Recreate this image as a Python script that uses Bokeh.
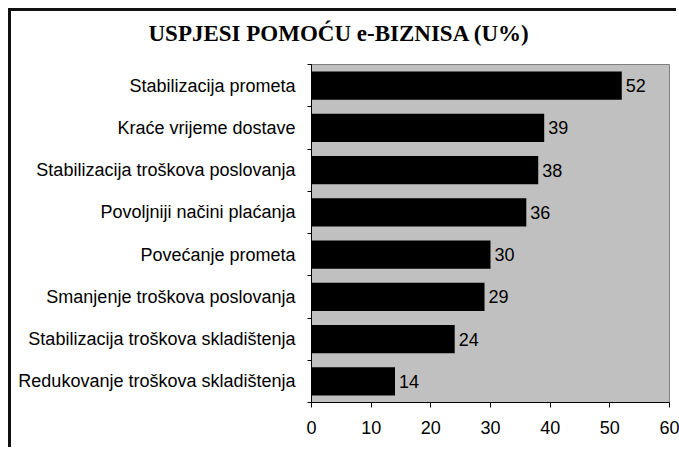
from bokeh.plotting import figure
from bokeh.models import FixedTicker, ColumnDataSource, LabelSet, Title
from bokeh.core.properties import value
from bokeh.embed import file_html
from bokeh.resources import INLINE

title_text = "USPJESI POMOĆU e-BIZNISA (U%)"
categories = [
    "Stabilizacija prometa",
    "Kraće vrijeme dostave",
    "Stabilizacija troškova poslovanja",
    "Povoljniji načini plaćanja",
    "Povećanje prometa",
    "Smanjenje troškova poslovanja",
    "Stabilizacija troškova skladištenja",
    "Redukovanje troškova skladištenja",
]
values = [52, 39, 38, 36, 30, 29, 24, 14]
x_ticks = [0, 10, 20, 30, 40, 50, 60]

n = len(categories)
ypos = [n - 1 - i + 0.5 for i in range(n)]
src = ColumnDataSource(dict(y=ypos, v=values, lab=[str(v) for v in values]))

FONT = "Liberation Sans"

p = figure(width=668, height=439, x_range=(0, 60), y_range=(0, n),
           output_backend="svg", toolbar_location=None,
           min_border_left=300, min_border_right=10,
           min_border_top=53, min_border_bottom=48)

p.hbar(y="y", right="v", left=0, height=0.667, source=src,
       fill_color="black", line_color=None)

labels = LabelSet(x="v", y="y", text="lab", source=src, x_offset=4,
                  text_baseline="middle", text_align="left",
                  text_font=value(FONT), text_font_size="18px",
                  text_color="black")
p.add_layout(labels)

# spacer between the title and the plot area
p.add_layout(Title(text=" ", text_font_size="1px", standoff=14), "above")

p.title.text = title_text
p.title.text_font = "Liberation Serif"
p.title.text_font_style = "bold"
p.title.text_font_size = "23px"
p.title.align = "left"
p.title.offset = -163
p.title.standoff = 4
p.title.text_color = "black"

p.background_fill_color = "#C0C0C0"
p.border_fill_color = "white"
p.outline_line_color = "#808080"
p.outline_line_width = 1
p.xgrid.visible = False
p.ygrid.visible = False

xa = p.xaxis[0]
xa.ticker = FixedTicker(ticks=x_ticks)
xa.major_tick_out = 5
xa.major_tick_in = 0
xa.minor_tick_out = 0
xa.minor_tick_in = 0
xa.axis_line_color = "black"
xa.major_tick_line_color = "black"
xa.major_label_text_font = FONT
xa.major_label_text_font_size = "18px"
xa.major_label_text_color = "black"
xa.major_label_standoff = 13

ya = p.yaxis[0]
ya.ticker = FixedTicker(ticks=ypos, minor_ticks=list(range(n + 1)))
ya.major_label_overrides = {y: c for y, c in zip(ypos, categories)}
ya.major_tick_out = 0
ya.major_tick_in = 0
ya.minor_tick_out = 4
ya.minor_tick_in = 0
ya.minor_tick_line_color = "black"
ya.axis_line_color = "black"
ya.major_label_text_font = FONT
ya.major_label_text_font_size = "18px"
ya.major_label_text_color = "black"
ya.major_label_standoff = 12

# outer chart box: left and top edges drawn as an offset shadow
p.styles = {"margin-left": "11px", "margin-top": "11px",
            "box-shadow": "-3px -3px 0 0 #111"}

open("out.html", "w").write(file_html(p, INLINE))
